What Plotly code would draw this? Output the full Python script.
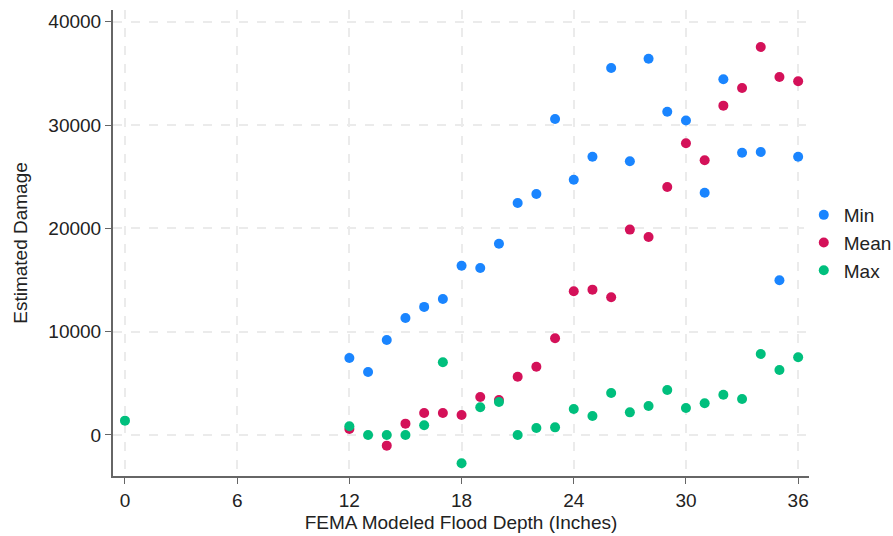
import plotly.graph_objects as go

depth = list(range(12, 37))
min_vals = [7450, 6100, 9200, 11330, 12400, 13170, 16380, 16170, 18510, 22460, 23330, 30590,
            24700, 26930, 35530, 26500, 36420, 31290, 30440, 23450, 34440, 27320, 27400, 14980, 26930]
mean_depth = [12, 14, 15, 16, 17, 18, 19, 20, 21, 22, 23, 24, 25, 26, 27, 28, 29, 30, 31, 32, 33, 34, 35, 36]
mean_vals = [580, -1030, 1100, 2130, 2130, 1940, 3680, 3390, 5640, 6610, 9360, 13910, 14070, 13330,
             19880, 19170, 24010, 28240, 26590, 31880, 33590, 37560, 34660, 34240]
max_depth = [0] + list(range(12, 37))
max_vals = [1390, 840, 0, 0, 0, 940, 7040, -2740, 2680, 3190, 0, 680, 740, 2520, 1840,
            4070, 2190, 2810, 4360, 2610, 3070, 3900, 3490, 7840, 6290, 7520]

x_ticks = [0, 6, 12, 18, 24, 30, 36]
y_ticks = [0, 10000, 20000, 30000, 40000]

FONT = "Liberation Sans, Arial, sans-serif"
FS = 19

fig = go.Figure()
fig.add_trace(go.Scatter(x=depth, y=min_vals, mode="markers", name="Min",
                         marker=dict(color="#1a85ff", size=10)))
fig.add_trace(go.Scatter(x=mean_depth, y=mean_vals, mode="markers", name="Mean",
                         marker=dict(color="#d41159", size=10)))
fig.add_trace(go.Scatter(x=max_depth, y=max_vals, mode="markers", name="Max",
                         marker=dict(color="#00bf7d", size=10)))

fig.update_layout(
    width=893, height=536,
    margin=dict(l=113, r=84, t=10, b=60, autoexpand=False),
    paper_bgcolor="white", plot_bgcolor="white",
    font=dict(family=FONT, size=FS, color="#222"),
    legend=dict(x=0.9925, xanchor="left", y=0.5, yanchor="middle",
                font=dict(size=FS), itemwidth=30, tracegroupgap=0),
    showlegend=True,
)
fig.update_xaxes(
    range=[-0.64, 36.58], tickvals=x_ticks, ticktext=[str(v) for v in x_ticks],
    showline=True, linecolor="#666", linewidth=2, ticks="outside", ticklen=6, tickcolor="#666",
    showgrid=True, gridcolor="#ebebeb", griddash="dash", gridwidth=1.5, zeroline=False,
    title=dict(text="FEMA Modeled Flood Depth (Inches)", font=dict(size=FS), standoff=6),
    tickfont=dict(size=FS),
)
fig.update_yaxes(
    range=[-3970, 41140], tickvals=y_ticks, ticktext=[str(v) for v in y_ticks],
    showline=True, linecolor="#666", linewidth=2, ticks="outside", ticklen=6, tickcolor="#666",
    showgrid=True, gridcolor="#ebebeb", griddash="dash", gridwidth=1.5, zeroline=False,
    title=dict(text="Estimated Damage", font=dict(size=FS), standoff=16),
    tickfont=dict(size=FS),
)

fig.write_html("out.html")
